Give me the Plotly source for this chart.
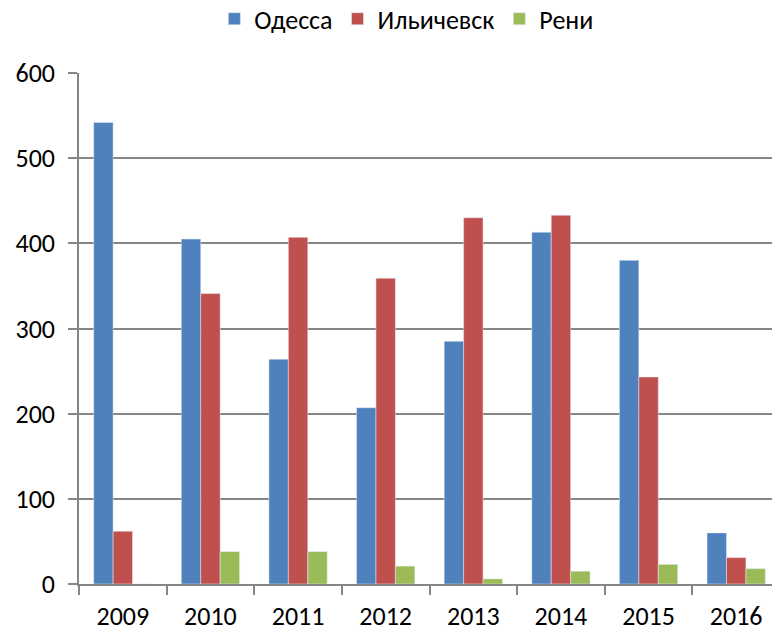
import plotly.graph_objects as go

years = ["2009", "2010", "2011", "2012", "2013", "2014", "2015", "2016"]
odessa = [542, 405, 264, 207, 285, 413, 380, 60]
ilyichevsk = [62, 341, 407, 359, 430, 433, 243, 31]
reni = [0, 38, 38, 21, 6, 15, 23, 18]
y_ticks = [0, 100, 200, 300, 400, 500, 600]

FONT = "Carlito, Lato, 'Open Sans', sans-serif"
FS = 26

fig = go.Figure()
fig.add_trace(go.Bar(name="Одесса", x=years, y=odessa, marker_color="#4F81BD"))
fig.add_trace(go.Bar(name="Ильичевск", x=years, y=ilyichevsk, marker_color="#C0504D"))
fig.add_trace(go.Bar(name="Рени", x=years, y=reni, marker_color="#9BBB59"))

fig.update_layout(
    width=772, height=622,
    margin=dict(l=71, r=0, t=65, b=46, autoexpand=False),
    paper_bgcolor="white", plot_bgcolor="white",
    barmode="group", bargap=0.335, bargroupgap=0,
    font=dict(family=FONT, size=FS, color="#000000"),
    legend=dict(orientation="h", x=0.467, xanchor="center", y=1.106, yanchor="middle",
                font=dict(size=FS), itemwidth=30,
                traceorder="normal", tracegroupgap=0),
    showlegend=True,
)
fig.update_xaxes(
    type="category", showline=True, linecolor="#868686", linewidth=1.5,
    ticks="outside", tickson="boundaries", ticklen=9, tickcolor="#868686", tickwidth=1.5,
    showgrid=False, tickfont=dict(size=FS), ticklabelstandoff=8, automargin=False,
)
fig.update_yaxes(
    range=[0, 600], tickvals=y_ticks, showline=True, linecolor="#868686", linewidth=1.5,
    ticks="outside", ticklen=9, tickcolor="#868686", tickwidth=1.5,
    showgrid=True, gridcolor="#868686", gridwidth=1.5, zeroline=False,
    tickfont=dict(size=FS), ticklabelstandoff=8, automargin=False,
)
fig.write_html("out.html")
